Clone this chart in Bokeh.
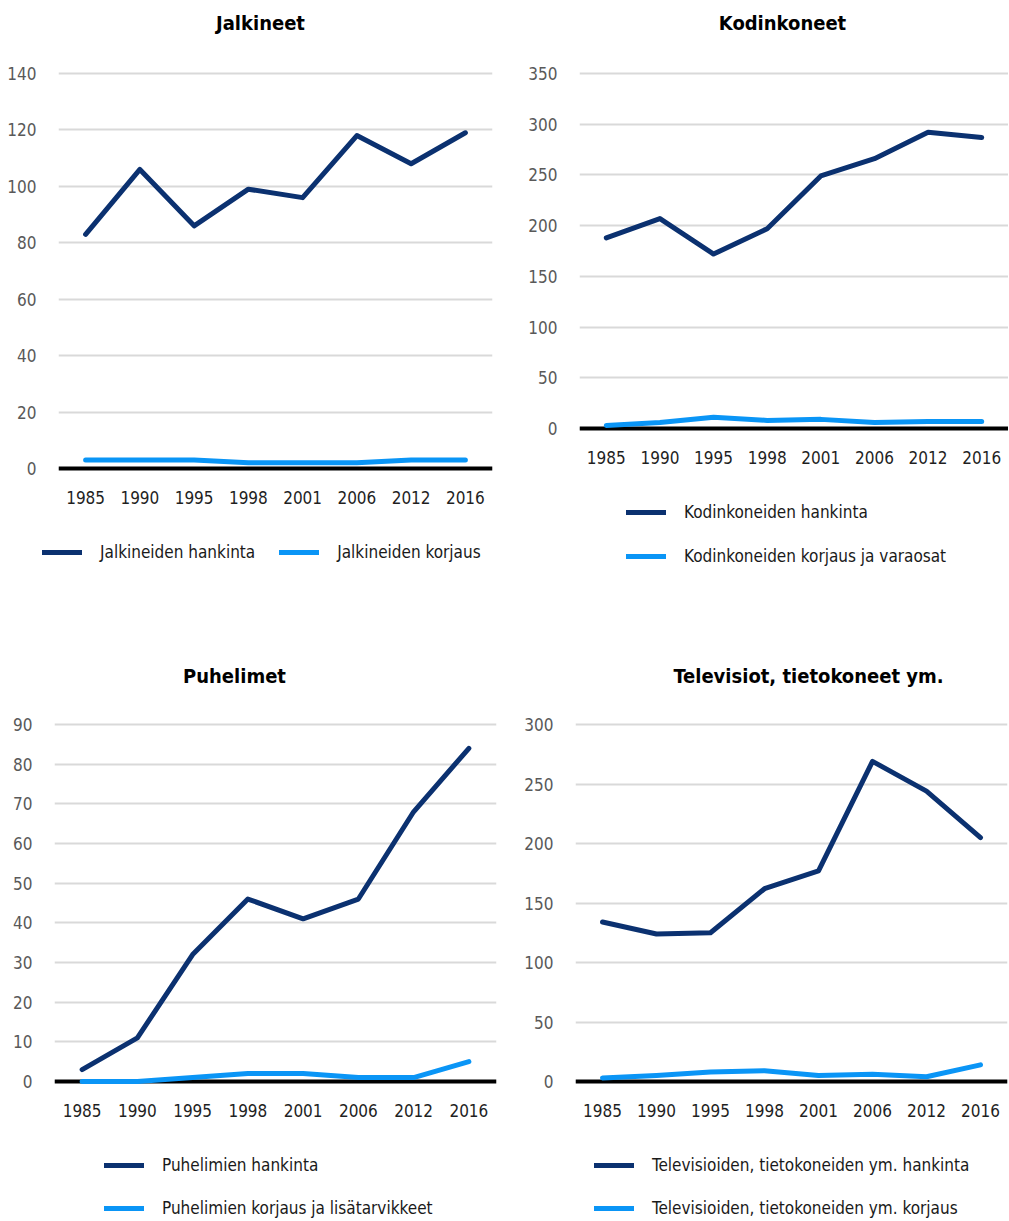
from bokeh.plotting import figure
from bokeh.models import Range1d, FixedTicker, Span, Legend, LegendItem, Label
from bokeh.layouts import column, row
from bokeh.embed import file_html
from bokeh.resources import INLINE

# ---------------- data ----------------
years = ["1985", "1990", "1995", "1998", "2001", "2006", "2012", "2016"]

jalkineet_hankinta = [83, 106, 86, 99, 96, 118, 108, 119]
jalkineet_korjaus = [3, 3, 3, 2, 2, 2, 3, 3]

kodinkoneet_hankinta = [188, 207, 172, 197, 249, 266, 292, 287]
kodinkoneet_korjaus = [3, 6, 11, 8, 9, 6, 7, 7]

puhelimet_hankinta = [3, 11, 32, 46, 41, 46, 68, 84]
puhelimet_korjaus = [0, 0, 1, 2, 2, 1, 1, 5]

tv_hankinta = [134, 124, 125, 162, 177, 269, 244, 205]
tv_korjaus = [3, 5, 8, 9, 5, 6, 4, 14]

jalkineet_ticks = [0, 20, 40, 60, 80, 100, 120, 140]
kodinkoneet_ticks = [0, 50, 100, 150, 200, 250, 300, 350]
puhelimet_ticks = [0, 10, 20, 30, 40, 50, 60, 70, 80, 90]
tv_ticks = [0, 50, 100, 150, 200, 250, 300]

titles = ["Jalkineet", "Kodinkoneet", "Puhelimet", "Televisiot, tietokoneet ym."]
labels_hankinta = ["Jalkineiden hankinta", "Kodinkoneiden hankinta",
                   "Puhelimien hankinta", "Televisioiden, tietokoneiden ym. hankinta"]
labels_korjaus = ["Jalkineiden korjaus", "Kodinkoneiden korjaus ja varaosat",
                  "Puhelimien korjaus ja lisätarvikkeet", "Televisioiden, tietokoneiden ym. korjaus"]

# ---------------- style / layout ----------------
FONT = "DejaVu Sans Condensed, Roboto Condensed, Liberation Sans Narrow, Roboto"
NAVY = "#0b3170"
BLUE = "#0a95f6"
PAD = 6          # frame padding around gridline range, px
BELOW = 46       # space under the frame for x tick labels
ITEM_H = 20

layouts = [
    dict(x0=0, y0=0, w=504, y1=610, fl=58, fr=492, gt=73, zy=468, tcx=260, ty=22, lx=42, rows=[552], horiz=True),
    dict(x0=504, y0=0, w=504, y1=610, fl=579, fr=1008, gt=73, zy=428, tcx=782, ty=22, lx=626, rows=[512, 556], horiz=False),
    dict(x0=0, y0=610, w=504, y1=1220, fl=54, fr=496, gt=724, zy=1081, tcx=234, ty=675, lx=104, rows=[1165, 1208], horiz=False),
    dict(x0=504, y0=610, w=504, y1=1220, fl=575, fr=1007, gt=724, zy=1081, tcx=808, ty=675, lx=594, rows=[1165, 1208], horiz=False),
]

series = [
    (jalkineet_hankinta, jalkineet_korjaus, jalkineet_ticks),
    (kodinkoneet_hankinta, kodinkoneet_korjaus, kodinkoneet_ticks),
    (puhelimet_hankinta, puhelimet_korjaus, puhelimet_ticks),
    (tv_hankinta, tv_korjaus, tv_ticks),
]


def line_style(fig, xs, ys, color, **kw):
    return fig.line(xs, ys, line_width=5, line_color=color,
                    line_cap="round", line_join="round", **kw)


def blank_fig(width, height, x_range, y_range):
    return figure(
        width=width, height=height, x_range=x_range, y_range=y_range,
        x_axis_type=None, y_axis_type=None,
        output_backend="svg", toolbar_location=None,
        min_border=0, outline_line_color=None,
        background_fill_color="white", border_fill_color="white",
    )


panels = []
for i, (L, (s1, s2, ticks)) in enumerate(zip(layouts, series)):
    ymax = ticks[-1]
    upp = ymax / (L["zy"] - L["gt"])
    frame_top = L["gt"] - PAD
    frame_bottom = L["zy"] + PAD
    plot_bottom = frame_bottom + BELOW
    title_h = L["ty"] - L["y0"] + 20

    # ---- title strip ----
    tf = blank_fig(L["w"], title_h, Range1d(0, 1), Range1d(0, 1))
    tf.add_layout(Label(
        x=L["tcx"] - L["x0"], y=title_h - (L["ty"] - L["y0"]),
        x_units="screen", y_units="screen",
        text=titles[i], text_align="center", text_baseline="middle",
        text_font=FONT, text_font_style="bold", text_font_size="20px",
        text_color="black",
    ))

    # ---- chart ----
    p = figure(
        width=L["w"], height=plot_bottom - (L["y0"] + title_h),
        x_range=years,
        y_range=Range1d(-PAD * upp, ymax + PAD * upp),
        output_backend="svg", toolbar_location=None,
        min_border_left=L["fl"] - L["x0"],
        min_border_right=L["x0"] + L["w"] - L["fr"],
        min_border_top=frame_top - (L["y0"] + title_h),
        min_border_bottom=BELOW,
        outline_line_color=None,
        background_fill_color="white", border_fill_color="white",
    )
    p.xgrid.visible = False
    p.ygrid.ticker = FixedTicker(ticks=ticks)
    p.ygrid.grid_line_color = "#d9d9d9"
    p.ygrid.grid_line_width = 2

    for ax in (p.xaxis, p.yaxis):
        ax.axis_line_color = None
        ax.major_tick_line_color = None
        ax.minor_tick_line_color = None
        ax.major_tick_out = 0
        ax.major_tick_in = 0
        ax.minor_tick_out = 0
        ax.minor_tick_in = 0
        ax.major_label_text_font = FONT
        ax.major_label_text_font_size = "17px"

    p.yaxis.ticker = FixedTicker(ticks=ticks)
    p.yaxis.major_label_standoff = 22
    p.yaxis.major_label_text_color = "#595959"
    p.xaxis.major_label_standoff = 16
    p.xaxis.major_label_text_color = "#1f1f1f"

    p.add_layout(Span(location=0, dimension="width", line_color="black",
                      line_width=4, level="underlay"))

    line_style(p, years, s1, NAVY)
    line_style(p, years, s2, BLUE)

    # ---- legend strip ----
    leg_fig_h = L["y1"] - plot_bottom
    lf = blank_fig(L["w"], leg_fig_h, years, Range1d(0, ymax))
    d1 = line_style(lf, years, s1, NAVY, visible=False)
    d2 = line_style(lf, years, s2, BLUE, visible=False)
    rows = L["rows"]
    if L["horiz"]:
        leg_h = ITEM_H
        spacing = 24
        orient = "horizontal"
    else:
        spacing = (rows[1] - rows[0]) - ITEM_H
        leg_h = len(rows) * ITEM_H + (len(rows) - 1) * spacing
        orient = "vertical"
    top_in_fig = rows[0] - ITEM_H / 2 - plot_bottom
    vy = leg_fig_h - top_in_fig - leg_h
    vx = L["lx"] - L["x0"]
    legend = Legend(
        items=[LegendItem(label=labels_hankinta[i], renderers=[d1]),
               LegendItem(label=labels_korjaus[i], renderers=[d2])],
        location=(vx, vy),
        orientation=orient,
        glyph_width=40, glyph_height=ITEM_H, label_height=ITEM_H,
        label_standoff=18, spacing=spacing, padding=0, margin=0,
        border_line_color=None, background_fill_alpha=0,
        inactive_fill_alpha=0,
        label_text_font=FONT, label_text_font_size="17px",
        label_text_color="#1a1a1a",
    )
    lf.add_layout(legend)
    panels.append(column(row(tf), p, row(lf)))

page = column(row(panels[0], panels[1]), row(panels[2], panels[3]))

open("out.html", "w").write(file_html(page, INLINE))
